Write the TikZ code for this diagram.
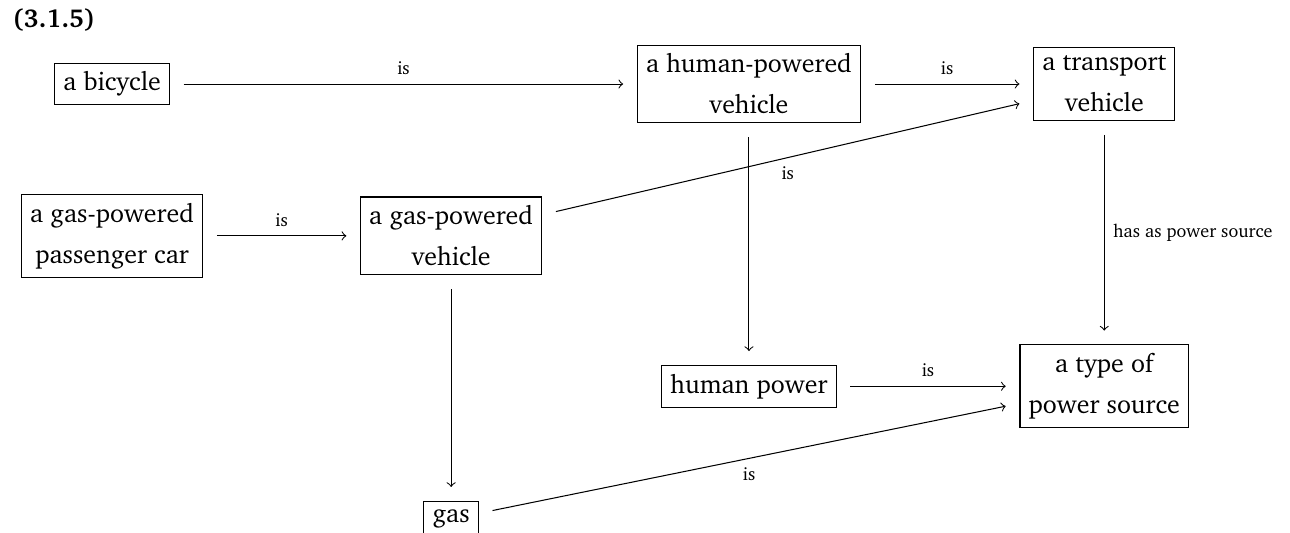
\documentclass[tikz,border=0pt]{standalone}
\usepackage[T1]{fontenc}
\usepackage{charter}

\begin{document}
\begin{tikzpicture}[
concept/.style={draw,align=center,outer sep=5.5pt,font=\fontsize{10}{15.8}\selectfont},
rel/.style={->},
lbl/.style={font=\scriptsize}]

\useasboundingbox (0,0) rectangle (17.5,-7.218);

\node[anchor=base west,font=\bfseries] (title) at (0.05,-0.38) {(3.1.5)};

% first row
\node[concept] (bicycle) at (1.52,-1.14) {a bicycle};
\node[concept] (humanveh) at (10.16,-1.14) {a human-powered\\vehicle};
\node[concept] (transport) at (14.98,-1.14) {a transport\\vehicle};

% second row
\node[concept] (car) at (1.52,-3.20) {a gas-powered\\passenger car};
\node[concept] (gasveh) at (6.12,-3.20) {a gas-powered\\vehicle};

% third and fourth row
\node[concept] (humanpow) at (10.16,-5.24) {human power};
\node[concept] (source) at (14.98,-5.24) {a type of\\power source};
\node[concept] (gas) at (6.12,-7.04) {gas};

% is-relations
\draw[rel] (bicycle) -- node[lbl,above] {is} (humanveh);
\draw[rel] (humanveh) -- node[lbl,above] {is} (transport);
\draw[rel] (car) -- node[lbl,above] {is} (gasveh);
\draw[rel] (gasveh) -- node[lbl,below] {is} (transport);
\draw[rel] (humanpow) -- node[lbl,above] {is} (source);
\draw[rel] (gas) -- node[lbl,below] {is} (source);

\draw[rel] (humanveh) -- (humanpow);
\draw[rel] (gasveh) -- (gas);
\draw[rel] (transport) -- node[lbl,right] {has as power source} (source);

\end{tikzpicture}
\end{document}
